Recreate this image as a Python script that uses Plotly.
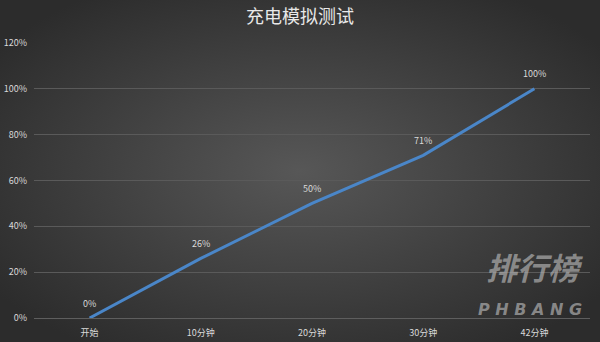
import base64
import plotly.graph_objects as go

categories = ["开始", "10分钟", "20分钟", "30分钟", "42分钟"]
charge = [0, 26, 50, 71, 100]
labels = ["0%", "26%", "50%", "71%", "100%"]
y_ticks = [0, 20, 40, 60, 80, 100, 120]
y_tick_text = ["0%", "20%", "40%", "60%", "80%", "100%", "120%"]

W, H = 600, 342
FONT = "Noto Sans CJK SC, Noto Sans, sans-serif"

svg = (
    '<svg xmlns="http://www.w3.org/2000/svg" width="600" height="342" viewBox="0 0 600 342" preserveAspectRatio="none">'
    '<defs><radialGradient id="g" cx="0.5" cy="0.5" r="0.62">'
    '<stop offset="0" stop-color="#575757"/>'
    '<stop offset="1" stop-color="#2c2c2c"/>'
    '</radialGradient></defs>'
    '<rect x="0" y="0" width="600" height="342" fill="url(#g)"/></svg>'
)
bg_uri = "data:image/svg+xml;base64," + base64.b64encode(svg.encode()).decode()

fig = go.Figure()
fig.add_trace(go.Scatter(
    x=categories, y=charge, mode="lines",
    line=dict(color="#4a86c8", width=3),
    hoverinfo="skip", showlegend=False,
))

annotations = [
    dict(x=c, y=v, xref="x", yref="y", text=t, showarrow=False, yshift=15,
         font=dict(color="#d9d9d9", size=9, family=FONT))
    for c, v, t in zip(categories, charge, labels)
]
annotations += [
    dict(text="<b><i>排行榜</i></b>", xref="paper", yref="paper", x=534 / W, y=1 - 266 / H,
         xanchor="center", yanchor="middle", showarrow=False,
         font=dict(size=31, color="rgba(175,175,175,0.7)", family=FONT)),
    dict(text="<b><i>P H B A N G</i></b>", xref="paper", yref="paper", x=530 / W, y=1 - 309 / H,
         xanchor="center", yanchor="middle", showarrow=False,
         font=dict(size=16, color="rgba(175,175,175,0.7)", family="DejaVu Sans")),
]

x0, x1 = 34 / W, 590 / W
y0, y1 = 1 - 318 / H, 1 - 43 / H

fig.update_layout(
    width=W, height=H,
    margin=dict(l=0, r=0, t=0, b=0),
    paper_bgcolor="rgba(0,0,0,0)", plot_bgcolor="rgba(0,0,0,0)",
    images=[dict(source=bg_uri, xref="paper", yref="paper", x=0, y=1,
                 sizex=1, sizey=1, xanchor="left", yanchor="top",
                 sizing="stretch", layer="below")],
    title=dict(text="充电模拟测试", x=0.5, xanchor="center", y=1 - 17 / H, yanchor="middle",
               font=dict(size=18, color="#e8e8e8", family=FONT)),
    xaxis=dict(domain=[x0, x1], automargin=False, showgrid=False, zeroline=False,
               showline=True, linecolor="#5e5e5e", linewidth=1, ticks="",
               ticklabelstandoff=6,
               tickfont=dict(size=9, color="#d9d9d9", family=FONT),
               range=[-0.5, 4.5]),
    yaxis=dict(domain=[y0, y1], automargin=False, range=[0, 120], tickvals=y_ticks,
               ticktext=y_tick_text, showgrid=True, gridcolor="#5a5a5a", gridwidth=1,
               zeroline=False, showline=False, ticks="", ticklabelstandoff=6,
               tickfont=dict(size=9, color="#d9d9d9", family=FONT)),
    annotations=annotations,
)

fig.write_html("out.html")
